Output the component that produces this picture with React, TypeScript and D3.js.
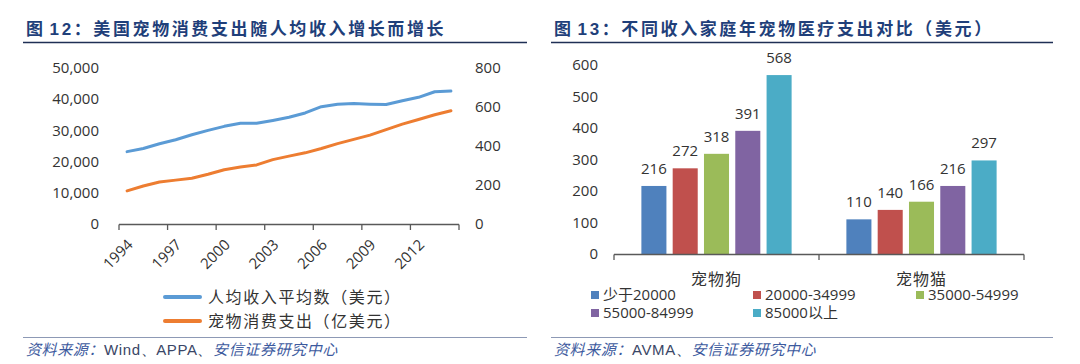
import * as d3 from "d3";

// left chart: US pet spending vs. per-capita income
const years = [
  "1994", "1995", "1996", "1997", "1998", "1999", "2000", "2001", "2002", "2003", "2004",
  "2005", "2006", "2007", "2008", "2009", "2010", "2011", "2012", "2013", "2014",
];
const yearTickLabels = ["1994", "1997", "2000", "2003", "2006", "2009", "2012"];
const incomeValues = [
  23200, 24200, 25700, 27000, 28600, 30000, 31300, 32300, 32300, 33200, 34200,
  35600, 37600, 38400, 38600, 38400, 38300, 39500, 40600, 42400, 42600,
];
const petSpendValues = [
  170, 195, 215, 225, 235, 255, 278, 292, 303, 330, 348,
  365, 387, 412, 434, 456, 484, 512, 536, 560, 581,
];
const leftTicks = [0, 10000, 20000, 30000, 40000, 50000];
const rightTicks = [0, 200, 400, 600, 800];
const lineSeries = ["人均收入平均数（美元）", "宠物消费支出（亿美元）"];

// right chart: pet medical spending by household income
const petGroups = ["宠物狗", "宠物猫"];
const incomeBrackets = ["少于20000", "20000-34999", "35000-54999", "55000-84999", "85000以上"];
const dogValues = [216, 272, 318, 391, 568];
const catValues = [110, 140, 166, 216, 297];
const barTicks = [0, 100, 200, 300, 400, 500, 600];

const NUM_FONT = "'Open Sans', 'Noto Sans CJK SC', sans-serif";
const CJK_FONT = "'Noto Sans CJK SC', sans-serif";
const TITLE_COLOR = "#1f3f7a";
const AXIS_COLOR = "#595959";
const TEXT_COLOR = "#333";
const lineColors = ["#5b9bd5", "#ed7d31"];
const barColors = ["#4f81bd", "#c0504d", "#9bbb59", "#8064a2", "#4bacc6"];

function Title({ x, num, text, lineX2 }: { x: number; num: string; text: string; lineX2: number }) {
  return (
    <g>
      <text x={x} y={35} fill={TITLE_COLOR} fontSize={17} fontWeight="bold" fontFamily={CJK_FONT} letterSpacing={2.6}>
        图
        <tspan fontFamily="'Liberation Sans', Arial, sans-serif" dx={4}>{num}</tspan>
        <tspan>：{text}</tspan>
      </text>
      <line x1={x - 3} x2={lineX2} y1={42.5} y2={42.5} stroke="#1f2f55" strokeWidth={1.5} />
    </g>
  );
}

function Footer({ x, lineX2, middle }: { x: number; lineX2: number; middle: string }) {
  return (
    <g>
      <line x1={x - 3} x2={lineX2} y1={337.5} y2={337.5} stroke="#8d99b5" strokeWidth={1.2} />
      <text x={x} y={355} fontSize={15} fontFamily={CJK_FONT} letterSpacing={0.6}>
        <tspan fill="#3d5a9e" fontStyle="italic">资料来源：</tspan>
        <tspan fill="#3a4666" fontFamily="'Liberation Sans', Arial, sans-serif">{middle}</tspan>
        <tspan fill="#3d5a9e" fontStyle="italic">安信证券研究中心</tspan>
      </text>
    </g>
  );
}

function LineChart() {
  const x = d3.scaleBand<string>().domain(years).range([119, 459]);
  const yLeft = d3.scaleLinear().domain([0, 50000]).range([224, 68]);
  const yRight = d3.scaleLinear().domain([0, 800]).range([224, 68]);
  const cx = (yr: string) => (x(yr) ?? 0) + x.bandwidth() / 2;
  const fmt = d3.format(",");

  const incomeLine = d3
    .line<number>()
    .x((_, i) => cx(years[i]))
    .y((d) => yLeft(d));
  const spendLine = d3
    .line<number>()
    .x((_, i) => cx(years[i]))
    .y((d) => yRight(d));

  const tickXs = yearTickLabels.map((yr) => x(yr) ?? 0).concat([x.range()[1]]);

  return (
    <g>
      {leftTicks.map((t) => (
        <text key={t} x={99} y={yLeft(t)} dy="0.35em" textAnchor="end" fontSize={15} fontFamily={NUM_FONT} fill={TEXT_COLOR}>
          {fmt(t)}
        </text>
      ))}
      {rightTicks.map((t) => (
        <text key={t} x={475} y={yRight(t)} dy="0.35em" fontSize={15} fontFamily={NUM_FONT} fill={TEXT_COLOR}>
          {t}
        </text>
      ))}
      <line x1={x.range()[0]} x2={x.range()[1]} y1={224.5} y2={224.5} stroke={AXIS_COLOR} strokeWidth={1.3} />
      {tickXs.map((tx, i) => (
        <line key={i} x1={tx} x2={tx} y1={224.5} y2={230} stroke={AXIS_COLOR} strokeWidth={1.3} />
      ))}
      {yearTickLabels.map((yr) => (
        <text
          key={yr}
          transform={`translate(${cx(yr) + 3},${242}) rotate(-45)`}
          textAnchor="end"
          dy="0.35em"
          fontSize={15}
          fontFamily={NUM_FONT}
          fill={TEXT_COLOR}
        >
          {yr}
        </text>
      ))}
      <path d={incomeLine(incomeValues) ?? ""} fill="none" stroke={lineColors[0]} strokeWidth={3} strokeLinejoin="round" strokeLinecap="round" />
      <path d={spendLine(petSpendValues) ?? ""} fill="none" stroke={lineColors[1]} strokeWidth={3} strokeLinejoin="round" strokeLinecap="round" />
      {lineSeries.map((name, i) => (
        <g key={name} transform={`translate(0,${297 + i * 24})`}>
          <line x1={165} x2={200} y1={0} y2={0} stroke={lineColors[i]} strokeWidth={4} strokeLinecap="round" />
          <text x={208} y={0} dy="0.36em" fontSize={16} fontFamily={CJK_FONT} fill={TEXT_COLOR} letterSpacing={1.6}>
            {name}
          </text>
        </g>
      ))}
    </g>
  );
}

function BarChart() {
  const x0 = d3.scaleBand<string>().domain(petGroups).range([614, 1024]);
  const x1 = d3
    .scaleBand<string>()
    .domain(incomeBrackets)
    .range([0, x0.bandwidth()])
    .paddingInner(0.2)
    .paddingOuter(0.875);
  const y = d3.scaleLinear().domain([0, 600]).range([254, 65]);
  const groupValues = [dogValues, catValues];

  return (
    <g>
      {barTicks.map((t) => (
        <text key={t} x={598} y={y(t)} dy="0.35em" textAnchor="end" fontSize={15} fontFamily={NUM_FONT} fill={TEXT_COLOR}>
          {t}
        </text>
      ))}
      {petGroups.map((g, gi) => (
        <g key={g} transform={`translate(${x0(g)},0)`}>
          {incomeBrackets.map((b, bi) => {
            const v = groupValues[gi][bi];
            const bx = x1(b) ?? 0;
            return (
              <g key={b}>
                <rect x={bx} y={y(v)} width={x1.bandwidth()} height={y(0) - y(v)} fill={barColors[bi]} />
                <text x={bx + x1.bandwidth() / 2} y={y(v) - 12} textAnchor="middle" fontSize={15} fontFamily={NUM_FONT} fill={TEXT_COLOR}>
                  {v}
                </text>
              </g>
            );
          })}
          <text x={x0.bandwidth() / 2} y={279} dy="0.36em" textAnchor="middle" fontSize={16} fontFamily={CJK_FONT} fill={TEXT_COLOR} letterSpacing={1}>
            {g}
          </text>
        </g>
      ))}
      <line x1={x0.range()[0]} x2={x0.range()[1]} y1={254.5} y2={254.5} stroke={AXIS_COLOR} strokeWidth={1.3} />
      {petGroups
        .map((g) => x0(g) ?? 0)
        .concat([x0.range()[1]])
        .map((tx, i) => (
          <line key={i} x1={tx} x2={tx} y1={254.5} y2={260} stroke={AXIS_COLOR} strokeWidth={1.3} />
        ))}
      {incomeBrackets.map((b, i) => {
        const lx = [591, 753, 916][i % 3];
        const ly = [295, 313][Math.floor(i / 3)];
        return (
          <g key={b}>
            <rect x={lx} y={ly - 4} width={8} height={8} fill={barColors[i]} />
            <text x={lx + 12} y={ly} dy="0.36em" fontSize={15} fontFamily={NUM_FONT} fill={TEXT_COLOR}>
              {b}
            </text>
          </g>
        );
      })}
    </g>
  );
}

export default function App() {
  return (
    <svg
      width={1080}
      height={364}
      style={{ position: "absolute", left: 0, top: 0, background: "#fff" }}
    >
      <rect width={1080} height={364} fill="#fff" />
      <Title x={26} num="12" text="美国宠物消费支出随人均收入增长而增长" lineX2={527} />
      <Title x={554} num="13" text="不同收入家庭年宠物医疗支出对比（美元）" lineX2={1053} />
      <LineChart />
      <BarChart />
      <Footer x={26} lineX2={527} middle="Wind、APPA、" />
      <Footer x={554} lineX2={1053} middle="AVMA、" />
    </svg>
  );
}
